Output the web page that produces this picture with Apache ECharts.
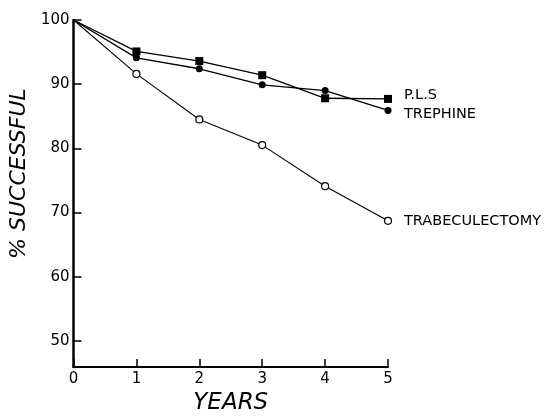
<!DOCTYPE html>
<html>
<head>
<meta charset="utf-8">
<script src="https://cdn.jsdelivr.net/npm/echarts@6/dist/echarts.min.js"></script>
<style>
html,body{margin:0;padding:0;background:#fff;}
#chart{width:554px;height:420px;}
</style>
</head>
<body>
<div id="chart"></div>
<script>
var years = [0, 1, 2, 3, 4, 5];
var plsValues = [100, 95.1, 93.6, 91.4, 87.8, 87.7];
var trephineValues = [100, 94.1, 92.4, 89.9, 89.0, 85.9];
var trabeculectomyValues = [100, 91.6, 84.5, 80.5, 74.1, 68.7];
var seriesNames = ['P.L.S', 'TREPHINE', 'TRABECULECTOMY'];
var yTicks = [50, 60, 70, 80, 90, 100];
var xTicks = [0, 1, 2, 3, 4, 5];

function pairs(vals) {
  return years.map(function (x, i) {
    var item = { value: [x, vals[i]] };
    if (i === 0) item.symbol = 'none';
    return item;
  });
}

var chart = echarts.init(document.getElementById('chart'));
var font = 'DejaVu Sans';
var lbl = function (name, dy) {
  return {
    show: true,
    formatter: name,
    color: '#000',
    fontFamily: font,
    fontSize: 14.5,
    distance: 16,
    offset: [0, dy]
  };
};

chart.setOption({
  animation: false,
  backgroundColor: '#fff',
  grid: { left: 63, right: 166, top: 20, bottom: 47 },
  xAxis: {
    type: 'value',
    min: 0, max: 5, interval: 1,
    name: 'YEARS',
    nameLocation: 'middle',
    nameGap: 24,
    nameTextStyle: { fontFamily: font, fontStyle: 'italic', fontSize: 23, color: '#000' },
    axisLine: { show: true, lineStyle: { color: '#000', width: 2 } },
    axisTick: { show: true, inside: true, length: 8, lineStyle: { color: '#000', width: 1.5 }, customValues: xTicks },
    axisLabel: { color: '#000', fontFamily: font, fontSize: 15, margin: 5, customValues: xTicks },
    splitLine: { show: false }
  },
  yAxis: {
    type: 'value',
    min: 45.9, max: 100,
    name: '% SUCCESSFUL',
    nameLocation: 'middle',
    nameGap: 36,
    nameTextStyle: { fontFamily: font, fontStyle: 'italic', fontSize: 22, color: '#000', padding: [0, 0, 0, 40] },
    axisLine: { show: true, lineStyle: { color: '#000', width: 2.5 } },
    axisTick: { show: true, inside: true, length: 8, lineStyle: { color: '#000', width: 1.5 }, customValues: yTicks },
    axisLabel: { color: '#000', fontFamily: font, fontSize: 15, margin: 4, customValues: yTicks },
    splitLine: { show: false }
  },
  series: [
    {
      name: seriesNames[0], type: 'line', data: pairs(plsValues),
      symbol: 'rect', symbolSize: 8, showAllSymbol: true,
      lineStyle: { color: '#000', width: 1.3 },
      itemStyle: { color: '#000' },
      endLabel: lbl(seriesNames[0], -4)
    },
    {
      name: seriesNames[1], type: 'line', data: pairs(trephineValues),
      symbol: 'circle', symbolSize: 7, showAllSymbol: true,
      lineStyle: { color: '#000', width: 1.3 },
      itemStyle: { color: '#000' },
      endLabel: lbl(seriesNames[1], 4)
    },
    {
      name: seriesNames[2], type: 'line', data: pairs(trabeculectomyValues),
      symbol: 'circle', symbolSize: 7, showAllSymbol: true,
      lineStyle: { color: '#000', width: 1.1 },
      itemStyle: { color: '#fff', borderColor: '#000', borderWidth: 1.2 },
      endLabel: lbl(seriesNames[2], 0)
    }
  ]
});
</script>
</body>
</html>
